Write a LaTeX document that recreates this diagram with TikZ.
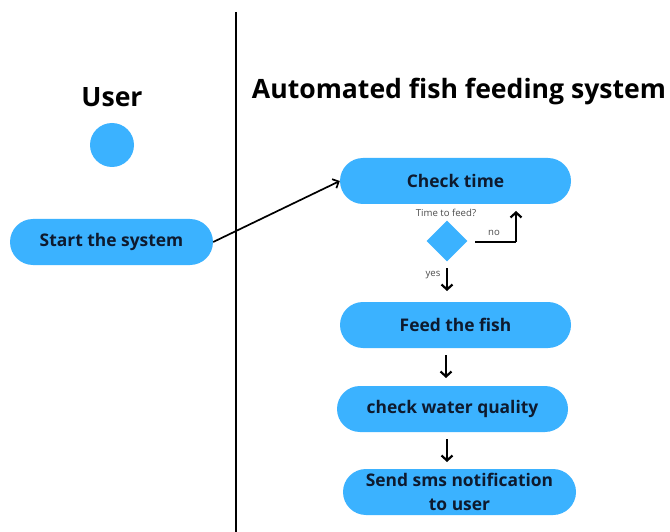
\documentclass[tikz,border=0pt]{standalone}
\usepackage{fontspec}
\setmainfont{Open Sans}
\usetikzlibrary{arrows.meta,shapes.geometric}
\definecolor{pill}{HTML}{3BB2FF}
\definecolor{ink}{HTML}{0E1A2E}
\tikzset{
  activity/.style={draw=none, fill=pill, rounded corners=23pt, minimum height=46pt,
    text=ink, font=\fontsize{17.4}{20}\selectfont\bfseries, align=center, inner sep=0pt},
  barb/.style={-{Straight Barb[length=5pt,width=11pt,line join=miter]}},
  flow/.style={barb, line width=2.2pt, black},
  title/.style={font=\fontsize{26.6}{32}\selectfont\bfseries, text=black},
  small/.style={font=\fontsize{9.6}{11}\selectfont, text=black!70}
}
\begin{document}
\begin{tikzpicture}[x=1pt,y=-1pt]
\useasboundingbox (0,0) rectangle (670,532);
\fill[white] (0,0) rectangle (670,532);

% swimlane divider
\coordinate (lt) at (236,12);
\coordinate (lb) at (236,532);
\draw[line width=1.8pt] (lt) -- (lb);

% lane titles
\node[title] (user) at (112,97) {User};
\node[title] (sys) at (459,92) {Automated fish feeding system};

% user lane
\node[circle, fill=pill, minimum size=44pt, inner sep=0pt] (init) at (112,145) {};
\node[activity, minimum width=203pt] (start) at (111.5,242) {Start the system};

% system lane
\node[activity, minimum width=231pt] (check) at (455.5,181) {Check time};
\node[small] (q) at (446,213) {Time to feed?};
\node[diamond, fill=pill, minimum size=41pt, inner sep=0pt] (dec) at (447,241) {};
\node[activity, minimum width=231pt] (feed) at (455.5,325) {Feed the fish};
\node[activity, minimum width=231pt] (water) at (452.5,409) {check water quality};
\node[activity, minimum width=233pt, font=\fontsize{17.4}{24}\selectfont\bfseries] (sms) at (459.5,492) {Send sms notification\\to user};

% connectors
\draw[-{Straight Barb[length=5pt,width=10pt]}, line width=1.7pt] (start.east) -- (check.west);

\coordinate (noA) at (475,242);
\coordinate (noB) at (516,242);
\coordinate (noC) at (516,211);
\draw[line width=2.2pt] (noA) -- (noB);
\draw[flow] (noB) -- (noC);
\node[small] (nolab) at (494,233) {no};

\coordinate (yA) at (447,268);
\coordinate (yB) at (447,291);
\draw[flow] (yA) -- (yB);
\node[small] (yeslab) at (433,275) {yes};

\coordinate (fA) at (446,355);
\coordinate (fB) at (446,378);
\draw[flow] (fA) -- (fB);

\coordinate (wA) at (447,439);
\coordinate (wB) at (447,462);
\draw[flow] (wA) -- (wB);
\end{tikzpicture}
\end{document}
